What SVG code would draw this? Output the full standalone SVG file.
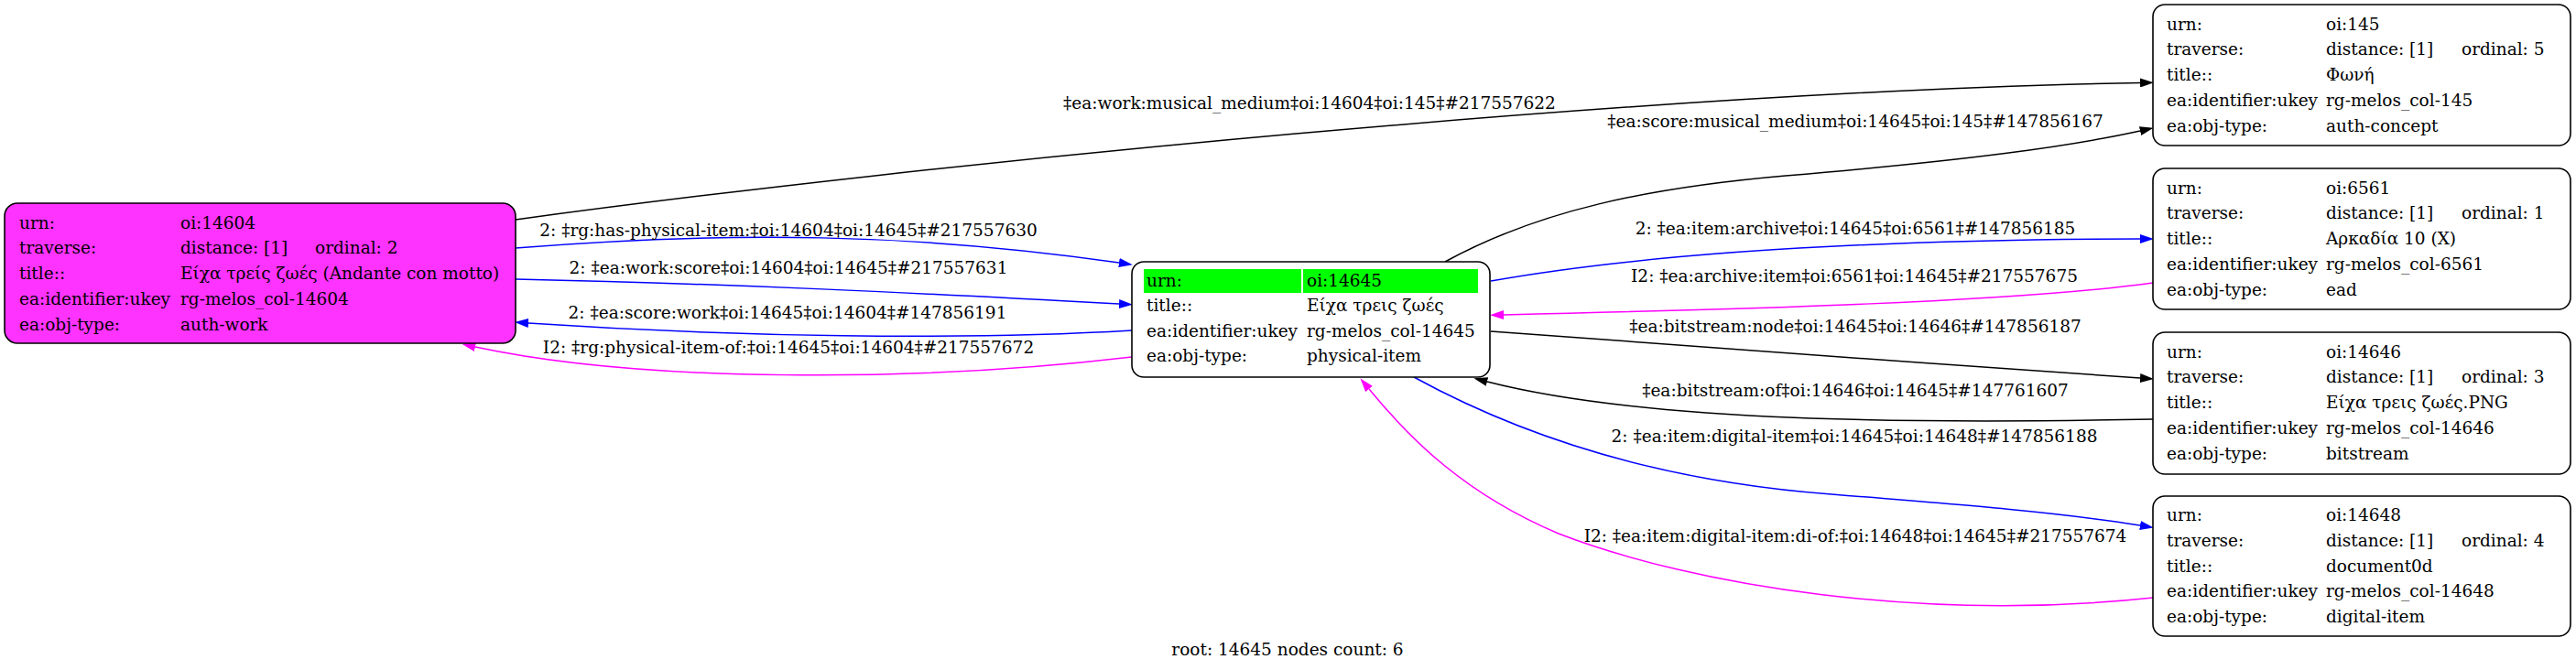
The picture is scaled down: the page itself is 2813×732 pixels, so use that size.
<svg xmlns="http://www.w3.org/2000/svg" width="2813" height="732" viewBox="0 0 2813 732">
<style>
text{font-family:"DejaVu Serif","Liberation Serif",serif;font-size:18.5px;fill:#000}
.lbl{text-anchor:middle}
.box{fill:#fff;stroke:#000;stroke-width:1.6}
.e{fill:none;stroke-width:1.5}
.k{stroke:#000}.b{stroke:#0000ff}.m{stroke:#ff00ff}
</style>
<defs>
<marker id="ak" markerUnits="userSpaceOnUse" viewBox="0 0 15 10" refX="0" refY="5" markerWidth="15" markerHeight="10" orient="auto"><path d="M0,0 L15,5 L0,10 z" fill="#000"/></marker>
<marker id="ab" markerUnits="userSpaceOnUse" viewBox="0 0 15 10" refX="0" refY="5" markerWidth="15" markerHeight="10" orient="auto"><path d="M0,0 L15,5 L0,10 z" fill="#0000ff"/></marker>
<marker id="am" markerUnits="userSpaceOnUse" viewBox="0 0 15 10" refX="0" refY="5" markerWidth="15" markerHeight="10" orient="auto"><path d="M0,0 L15,5 L0,10 z" fill="#ff00ff"/></marker>
</defs>
<rect width="2813" height="732" fill="#fff"/>
<g id="connectors">
<path class="e k" marker-end="url(#ak)" d="M563,240 C1000,180 1800,100 2337,90.5"/>
<path class="e b" marker-end="url(#ab)" d="M563,271 C800,252 1000,255 1222,287"/>
<path class="e b" marker-end="url(#ab)" d="M563,305 C800,310 1000,320 1222,332"/>
<path class="e b" marker-end="url(#ab)" d="M1236,361 C1050,372 800,368 577,353"/>
<path class="e m" marker-end="url(#am)" d="M1236,390 C1000,418 700,418 519,379"/>
<path class="e k" marker-end="url(#ak)" d="M1578,286 C1680,230 1800,205 1950,192 C2150,175 2260,160 2337,143"/>
<path class="e b" marker-end="url(#ab)" d="M1628,307 C1780,280 2000,262 2337,261"/>
<path class="e m" marker-end="url(#am)" d="M2351,309 C2200,330 1900,338 1642,344"/>
<path class="e k" marker-end="url(#ak)" d="M1628,362 C1900,380 2100,398 2337,413"/>
<path class="e k" marker-end="url(#ak)" d="M2351,458 C2100,463 1800,462 1624,417"/>
<path class="e b" marker-end="url(#ab)" d="M1544,412 C1650,470 1800,525 2000,540 C2150,552 2250,560 2337,574"/>
<path class="e m" marker-end="url(#am)" d="M2351,653 C2100,680 1850,640 1702,583 C1600,540 1540,480 1495,425"/>
<text class="lbl" x="1430" y="119">‡ea:work:musical_medium‡oi:14604‡oi:145‡#217557622</text>
<text class="lbl" x="2026" y="139">‡ea:score:musical_medium‡oi:14645‡oi:145‡#147856167</text>
<text class="lbl" x="861" y="258">2: ‡rg:has-physical-item:‡oi:14604‡oi:14645‡#217557630</text>
<text class="lbl" x="2026" y="256">2: ‡ea:item:archive‡oi:14645‡oi:6561‡#147856185</text>
<text class="lbl" x="861" y="299">2: ‡ea:work:score‡oi:14604‡oi:14645‡#217557631</text>
<text class="lbl" x="2025" y="308">I2: ‡ea:archive:item‡oi:6561‡oi:14645‡#217557675</text>
<text class="lbl" x="860" y="348">2: ‡ea:score:work‡oi:14645‡oi:14604‡#147856191</text>
<text class="lbl" x="2026" y="363">‡ea:bitstream:node‡oi:14645‡oi:14646‡#147856187</text>
<text class="lbl" x="861" y="386">I2: ‡rg:physical-item-of:‡oi:14645‡oi:14604‡#217557672</text>
<text class="lbl" x="2026" y="433">‡ea:bitstream:of‡oi:14646‡oi:14645‡#147761607</text>
<text class="lbl" x="2025" y="483">2: ‡ea:item:digital-item‡oi:14645‡oi:14648‡#147856188</text>
<text class="lbl" x="2026" y="592">I2: ‡ea:item:digital-item:di-of:‡oi:14648‡oi:14645‡#217557674</text>
</g>
<g id="node-14604">
<rect x="5" y="222" width="558" height="153" rx="14" fill="#ff33ff" stroke="#000" stroke-width="1.6"/>
<text x="21" y="249.5">urn:</text><text x="197" y="249.5">oi:14604</text>
<text x="21" y="277.3">traverse:</text><text x="197" y="277.3">distance: [1]</text><text x="344" y="277.3">ordinal: 2</text>
<text x="21" y="305">title::</text><text x="197" y="305">Είχα τρείς ζωές (Andante con motto)</text>
<text x="21" y="332.9">ea:identifier:ukey</text><text x="197" y="332.9">rg-melos_col-14604</text>
<text x="21" y="360.7">ea:obj-type:</text><text x="197" y="360.7">auth-work</text>
</g>
<g id="node-14645">
<rect class="box" x="1236" y="286" width="391" height="126" rx="13"/>
<rect x="1249" y="294" width="172" height="26" fill="#00ff00"/>
<rect x="1423" y="294" width="191" height="26" fill="#00ff00"/>
<text x="1252" y="313">urn:</text><text x="1427" y="313">oi:14645</text>
<text x="1252" y="340">title::</text><text x="1427" y="340">Είχα τρεις ζωές</text>
<text x="1252" y="367.5">ea:identifier:ukey</text><text x="1427" y="367.5">rg-melos_col-14645</text>
<text x="1252" y="395">ea:obj-type:</text><text x="1427" y="395">physical-item</text>
</g>
<g id="node-145">
<rect class="box" x="2351" y="5" width="456" height="154" rx="13"/>
<text x="2366" y="32.5">urn:</text><text x="2540" y="32.5">oi:145</text>
<text x="2366" y="60.3">traverse:</text><text x="2540" y="60.3">distance: [1]</text><text x="2688" y="60.3">ordinal: 5</text>
<text x="2366" y="88">title::</text><text x="2540" y="88">Φωνή</text>
<text x="2366" y="115.9">ea:identifier:ukey</text><text x="2540" y="115.9">rg-melos_col-145</text>
<text x="2366" y="143.7">ea:obj-type:</text><text x="2540" y="143.7">auth-concept</text>
</g>
<g id="node-6561">
<rect class="box" x="2351" y="184" width="456" height="154" rx="13"/>
<text x="2366" y="211.5">urn:</text><text x="2540" y="211.5">oi:6561</text>
<text x="2366" y="239.3">traverse:</text><text x="2540" y="239.3">distance: [1]</text><text x="2688" y="239.3">ordinal: 1</text>
<text x="2366" y="267">title::</text><text x="2540" y="267">Αρκαδία 10 (Χ)</text>
<text x="2366" y="294.9">ea:identifier:ukey</text><text x="2540" y="294.9">rg-melos_col-6561</text>
<text x="2366" y="322.7">ea:obj-type:</text><text x="2540" y="322.7">ead</text>
</g>
<g id="node-14646">
<rect class="box" x="2351" y="363" width="456" height="155" rx="13"/>
<text x="2366" y="390.5">urn:</text><text x="2540" y="390.5">oi:14646</text>
<text x="2366" y="418.3">traverse:</text><text x="2540" y="418.3">distance: [1]</text><text x="2688" y="418.3">ordinal: 3</text>
<text x="2366" y="446">title::</text><text x="2540" y="446">Είχα τρεις ζωές.PNG</text>
<text x="2366" y="473.9">ea:identifier:ukey</text><text x="2540" y="473.9">rg-melos_col-14646</text>
<text x="2366" y="501.7">ea:obj-type:</text><text x="2540" y="501.7">bitstream</text>
</g>
<g id="node-14648">
<rect class="box" x="2351" y="542" width="456" height="153" rx="13"/>
<text x="2366" y="569">urn:</text><text x="2540" y="569">oi:14648</text>
<text x="2366" y="596.8">traverse:</text><text x="2540" y="596.8">distance: [1]</text><text x="2688" y="596.8">ordinal: 4</text>
<text x="2366" y="624.5">title::</text><text x="2540" y="624.5">document0d</text>
<text x="2366" y="652.4">ea:identifier:ukey</text><text x="2540" y="652.4">rg-melos_col-14648</text>
<text x="2366" y="680.2">ea:obj-type:</text><text x="2540" y="680.2">digital-item</text>
</g>
<text class="lbl" x="1406" y="716">root: 14645 nodes count: 6</text>
</svg>
